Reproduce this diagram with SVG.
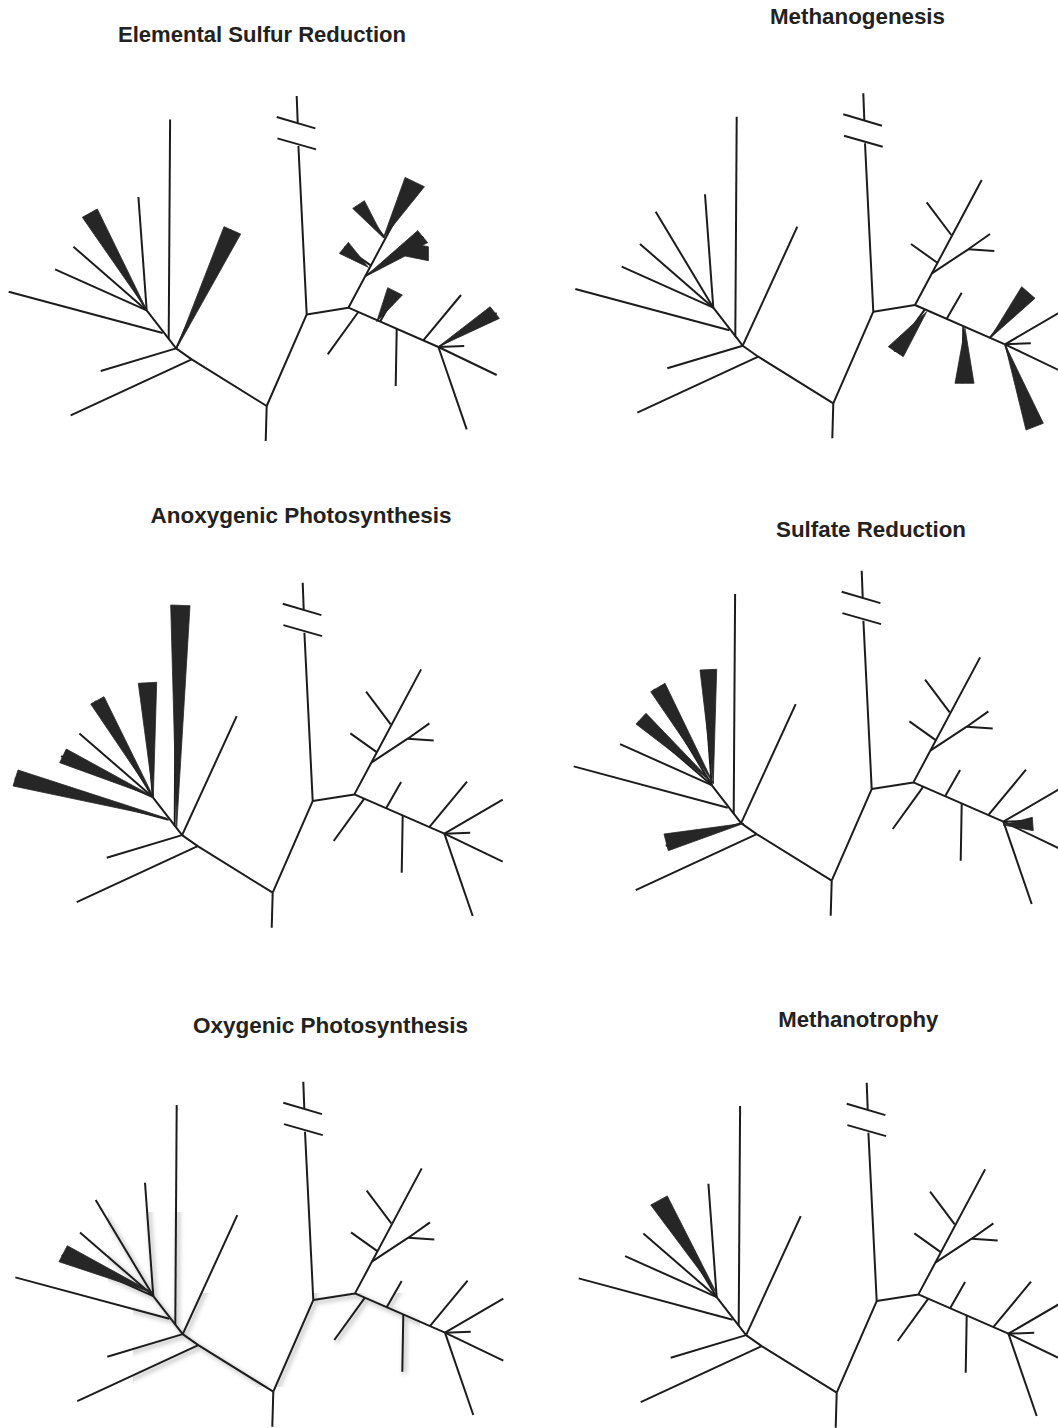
<svg xmlns="http://www.w3.org/2000/svg" xmlns:xlink="http://www.w3.org/1999/xlink" width="1058" height="1428" viewBox="0 0 1058 1428">
<style>
.title{font-family:"Liberation Sans",Arial,sans-serif;font-weight:bold;font-size:22px;fill:#222;text-anchor:middle}
.tree{stroke:#1c1c1c;stroke-width:2;fill:none;stroke-linecap:butt;stroke-linejoin:round}
.wedge{fill:#262626;stroke:#262626;stroke-width:0.8;stroke-linejoin:miter}
</style>
<defs>
<g id="tree">
<path d="M0,0 L-1,35"/>
<path d="M0,0 L-75,-46.6 L-90.6,-57.6 L-120,-95.6"/>
<path d="M-75,-46.6 L-196,9.4"/>
<path d="M-90.6,-57.6 L-166,-35"/>
<path d="M-90.6,-57.6 L-36,-176.6"/>
<path d="M-98,-67 L-96.6,-286.6"/>
<path d="M-104,-73 L-258,-114.3"/>
<path d="M-120,-95.6 L-211.6,-136.6"/>
<path d="M-120,-95.6 L-193.3,-159.3"/>
<path d="M-120,-95.6 L-177.6,-191.6"/>
<path d="M-120,-95.6 L-128.3,-209"/>
<path d="M0,0 L40,-91.6 L31.7,-260"/>
<path d="M10.7,-267.6 L49.4,-256.6"/>
<path d="M10,-289 L48.7,-277.6"/>
<path d="M30,-310 L31,-283.3"/>
<path d="M40,-91.6 L81.7,-98.3 L148.4,-223.3"/>
<path d="M118,-168.3 L93.4,-201"/>
<path d="M104,-140.6 L77.7,-159.3"/>
<path d="M98.6,-130 L135,-154 L156.7,-169.3"/>
<path d="M135,-154 L161,-152.3"/>
<path d="M81.7,-98.3 L171.7,-59"/>
<path d="M113.4,-84.5 L128.4,-110.6"/>
<path d="M130,-77 L129,-20"/>
<path d="M91.6,-94 L61,-51.7"/>
<path d="M156.6,-65.6 L194.3,-111"/>
<path d="M171.7,-59 L230,-31"/>
<path d="M171.7,-59 L197.5,-60"/>
<path d="M171.7,-59 L200,23.3"/>
<path d="M171.7,-59 L230,-93"/>
</g>
<filter id="blur" x="-10%" y="-10%" width="120%" height="120%"><feGaussianBlur stdDeviation="2"/></filter>
<clipPath id="shclip">
<rect x="108" y="1212" width="92" height="88"/>
<rect x="133" y="1293" width="287" height="94"/>
</clipPath>
</defs>

<g id="titles">
<text class="title" x="262" y="41.5" textLength="288" lengthAdjust="spacingAndGlyphs">Elemental Sulfur Reduction</text>
<text class="title" x="857.5" y="23.5" textLength="175" lengthAdjust="spacingAndGlyphs">Methanogenesis</text>
<text class="title" x="301" y="523" textLength="301" lengthAdjust="spacingAndGlyphs">Anoxygenic Photosynthesis</text>
<text class="title" x="871" y="537" textLength="190" lengthAdjust="spacingAndGlyphs">Sulfate Reduction</text>
<text class="title" x="330.5" y="1033" textLength="275" lengthAdjust="spacingAndGlyphs">Oxygenic Photosynthesis</text>
<text class="title" x="858.3" y="1026.7" textLength="160" lengthAdjust="spacingAndGlyphs">Methanotrophy</text>
</g>

<g id="panel-sulfur" transform="translate(266.7,406)">
<use href="#tree" class="tree"/>
<polygon class="wedge" points="-120,-96 -184.4,-188.7 -169.4,-197"/>
<polygon class="wedge" points="-90,-57.7 -42.7,-179.3 -26,-172"/>
<polygon class="wedge" points="116.7,-168.3 138.4,-228.6 157.7,-219.3"/>
<polygon class="wedge" points="116.7,-168.3 86,-197.6 97.7,-205.3"/>
<polygon class="wedge" points="101.7,-138.6 72.7,-152.6 81.7,-163.6"/>
<polygon class="wedge" points="98.4,-129.3 151,-175.3 161,-163.3 155,-160.6 161.7,-159.3 161.7,-145.3 138.4,-150"/>
<polygon class="wedge" points="110,-84.3 121,-118.3 135.7,-111"/>
<polygon class="wedge" points="171.7,-59.3 223.4,-99.3 232.7,-87.6"/>
</g>

<g id="panel-methanogenesis" transform="translate(833.3,403.3)">
<use href="#tree" class="tree"/>
<polygon class="wedge" points="93.4,-91.6 55,-56.6 70,-46.6"/>
<polygon class="wedge" points="131.7,-75 121.7,-20 140.7,-20"/>
<polygon class="wedge" points="156.7,-65 188.4,-116.6 201.7,-105"/>
<polygon class="wedge" points="171.7,-59 192.7,26.7 210,20"/>
</g>

<g id="panel-anoxygenic" transform="translate(272.7,892.7)">
<use href="#tree" class="tree"/>
<polygon class="wedge" points="-96,-66 -102,-287.7 -82.7,-287"/>
<polygon class="wedge" points="-119.4,-96 -134.4,-209.4 -116,-210.4"/>
<polygon class="wedge" points="-119.4,-96 -182,-188.7 -168.7,-196"/>
<polygon class="wedge" points="-119.4,-96 -213,-130 -206.4,-143.7"/>
<polygon class="wedge" points="-106,-74.4 -259.7,-106.7 -254.7,-122.7"/>
</g>

<g id="panel-sulfate" transform="translate(831.7,880.7)">
<use href="#tree" class="tree"/>
<polygon class="wedge" points="-118.4,-97.4 -131.7,-210.7 -115,-211.4"/>
<polygon class="wedge" points="-118.4,-97.4 -181,-189 -166.7,-197.4"/>
<polygon class="wedge" points="-118.4,-97.4 -195.7,-156.7 -185.7,-167.4"/>
<polygon class="wedge" points="-87.7,-57.4 -167.7,-46.7 -163.4,-30"/>
<polygon class="wedge" points="171.6,-55.7 200.6,-63.4 201.6,-50"/>
</g>

<g id="panel-oxygenic">
<g clip-path="url(#shclip)" opacity="0.45">
<g filter="url(#blur)">
<use href="#tree" transform="translate(275.5,1394)" style="stroke:#8a8a8a;stroke-width:4;fill:none"/>
</g>
</g>
<g transform="translate(273.3,1391.7)">
<use href="#tree" class="tree"/>
<polygon class="wedge" points="-119.3,-98.4 -214.3,-130 -206,-146"/>
</g>
</g>

<g id="panel-methanotrophy" transform="translate(836.7,1392.7)">
<use href="#tree" class="tree"/>
<polygon class="wedge" points="-120,-99.4 -186,-187.7 -169.4,-196.7"/>
</g>
</svg>
